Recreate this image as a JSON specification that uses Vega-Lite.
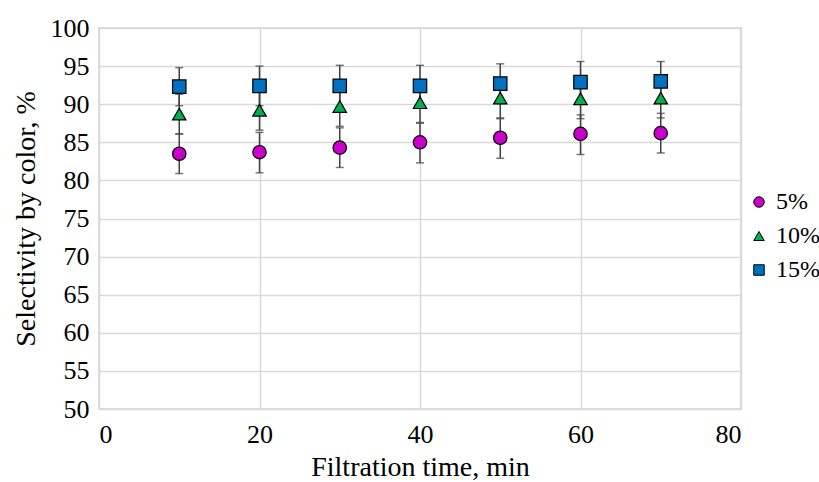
{
  "$schema": "https://vega.github.io/schema/vega-lite/v6.json",
  "autosize": "none",
  "width": 642,
  "height": 381,
  "padding": {"left": 99, "top": 28, "right": 78, "bottom": 73},
  "config": {
    "font": "Liberation Serif",
    "view": {"stroke": "#d0d0d0", "strokeWidth": 1.5},
    "axis": {"labelFont": "Liberation Serif, Times New Roman, serif", "titleFont": "Liberation Serif", "labelColor": "#000", "titleColor": "#000", "labelFontSize": 26, "titleFontSize": 28, "titleFontWeight": "normal", "domain": false, "ticks": false, "gridColor": "#d9d9d9", "gridWidth": 1.5, "labelOverlap": false},
    "axisY": {"tickCount": 11, "values": [50,55,60,65,70,75,80,85,90,95,100]},
    "legend": {"labelFont": "Liberation Serif, Times New Roman, serif"}
  },
  "data": {"values": [
    {"time": 10, "series": "5%", "value": 83.5, "lo": 80.9, "hi": 86.1},
    {"time": 20, "series": "5%", "value": 83.7, "lo": 81.0, "hi": 86.3},
    {"time": 30, "series": "5%", "value": 84.3, "lo": 81.7, "hi": 86.9},
    {"time": 40, "series": "5%", "value": 85.0, "lo": 82.3, "hi": 87.5},
    {"time": 50, "series": "5%", "value": 85.6, "lo": 82.9, "hi": 88.1},
    {"time": 60, "series": "5%", "value": 86.1, "lo": 83.4, "hi": 88.6},
    {"time": 70, "series": "5%", "value": 86.2, "lo": 83.6, "hi": 88.8},
    {"time": 10, "series": "10%", "value": 88.7, "lo": 86.1, "hi": 91.3},
    {"time": 20, "series": "10%", "value": 89.2, "lo": 86.6, "hi": 91.8},
    {"time": 30, "series": "10%", "value": 89.7, "lo": 87.1, "hi": 92.3},
    {"time": 40, "series": "10%", "value": 90.2, "lo": 87.6, "hi": 92.8},
    {"time": 50, "series": "10%", "value": 90.8, "lo": 88.2, "hi": 93.4},
    {"time": 60, "series": "10%", "value": 90.7, "lo": 88.1, "hi": 93.3},
    {"time": 70, "series": "10%", "value": 90.8, "lo": 88.2, "hi": 93.4},
    {"time": 10, "series": "15%", "value": 92.3, "lo": 89.8, "hi": 94.8},
    {"time": 20, "series": "15%", "value": 92.4, "lo": 89.8, "hi": 95.0},
    {"time": 30, "series": "15%", "value": 92.4, "lo": 89.7, "hi": 95.1},
    {"time": 40, "series": "15%", "value": 92.4, "lo": 89.7, "hi": 95.1},
    {"time": 50, "series": "15%", "value": 92.7, "lo": 90.1, "hi": 95.3},
    {"time": 60, "series": "15%", "value": 92.9, "lo": 90.2, "hi": 95.6},
    {"time": 70, "series": "15%", "value": 93.0, "lo": 90.4, "hi": 95.6}
  ]},
  "encoding": {
    "x": {"field": "time", "type": "quantitative", "scale": {"domain": [0, 80], "nice": false}, "axis": {"values": [0, 20, 40, 60, 80], "title": "Filtration time, min", "labelPadding": 12, "titlePadding": 6, "labelFont": "Liberation Serif, Times New Roman, serif"}},
    "y": {"field": "value", "type": "quantitative", "scale": {"domain": [50, 100], "nice": false, "zero": false}, "axis": {"values": [50,55,60,65,70,75,80,85,90,95,100], "tickCount": 11, "title": "Selectivity by color, %", "labelPadding": 10, "titlePadding": 10, "labelFont": "Liberation Serif, Times New Roman, serif"}}
  },
  "layer": [
    {
      "mark": {"type": "rule", "color": "#404040", "strokeWidth": 1.5},
      "encoding": {
        "y": {"field": "lo", "type": "quantitative", "axis": {"values": [50,55,60,65,70,75,80,85,90,95,100], "tickCount": 11, "title": "Selectivity by color, %", "labelPadding": 10, "titlePadding": 10, "labelFont": "Liberation Serif, Times New Roman, serif"}},
        "y2": {"field": "hi"}
      }
    },
    {
      "mark": {"type": "tick", "orient": "horizontal", "color": "#404040", "thickness": 1.5, "size": 8},
      "encoding": {"y": {"field": "lo", "type": "quantitative", "axis": {"values": [50,55,60,65,70,75,80,85,90,95,100], "tickCount": 11, "title": "Selectivity by color, %", "labelPadding": 10, "titlePadding": 10, "labelFont": "Liberation Serif, Times New Roman, serif"}}}
    },
    {
      "mark": {"type": "tick", "orient": "horizontal", "color": "#404040", "thickness": 1.5, "size": 8},
      "encoding": {"y": {"field": "hi", "type": "quantitative", "axis": {"values": [50,55,60,65,70,75,80,85,90,95,100], "tickCount": 11, "title": "Selectivity by color, %", "labelPadding": 10, "titlePadding": 10, "labelFont": "Liberation Serif, Times New Roman, serif"}}}
    },
    {
      "mark": {"type": "point", "filled": true, "opacity": 1, "stroke": "#000", "strokeWidth": 1.2, "size": 180},
      "encoding": {
        "shape": {"field": "series", "type": "nominal", "scale": {"domain": ["5%", "10%", "15%"], "range": ["circle", "triangle-up", "square"]}, "legend": null},
        "color": {"field": "series", "type": "nominal", "scale": {"domain": ["5%", "10%", "15%"], "range": ["#CC00CC", "#00B050", "#0070C0"]},
          "legend": {"title": null, "orient": "none", "legendX": 648, "legendY": 162, "labelFontSize": 24, "labelFont": "Liberation Serif, Times New Roman, serif", "labelColor": "#000", "symbolSize": 110, "symbolStrokeColor": "#000", "symbolStrokeWidth": 1, "rowPadding": 10, "labelOffset": 5}}
      }
    }
  ]
}
